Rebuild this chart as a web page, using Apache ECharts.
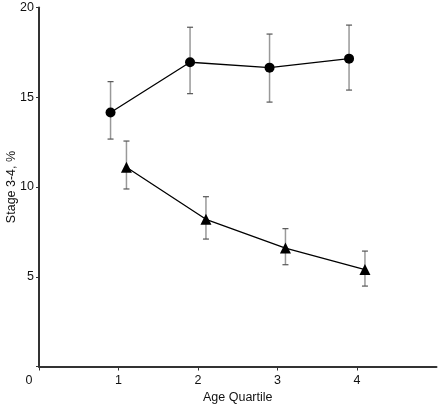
<!DOCTYPE html>
<html><head><meta charset="utf-8">
<script src="https://cdn.jsdelivr.net/npm/echarts@6/dist/echarts.min.js"></script>
<style>html,body{margin:0;padding:0;background:#fff}#c{width:440px;height:406px}</style>
</head><body><div id="c"></div>
<script>
var xTicks = [0, 1, 2, 3, 4];
var yTicks = [0, 5, 10, 15, 20];
var circleX = [0.9, 1.9, 2.9, 3.9];
var circleY = [14.15, 16.95, 16.65, 17.15];
var circleLow = [12.67, 15.2, 14.73, 15.4];
var circleHigh = [15.87, 18.9, 18.52, 19.02];
var triX = [1.1, 2.1, 3.1, 4.1];
var triY = [11.1, 8.2, 6.6, 5.4];
var triLow = [9.89, 7.1, 5.67, 4.48];
var triHigh = [12.56, 9.46, 7.68, 6.43];

var FONT = "'Liberation Sans Narrow','Arial Narrow','Liberation Sans',sans-serif";
function pts(xs, ys){ return xs.map(function(x,i){return [x, ys[i]];}); }
function errs(xs, lo, hi){ return xs.map(function(x,i){return [x, lo[i], hi[i]];}); }
function errRender(params, api){
  var x = api.value(0);
  var lo = api.coord([x, api.value(1)]);
  var hi = api.coord([x, api.value(2)]);
  var w = 3;
  return {type:'group', children:[
    {type:'line', shape:{x1:lo[0],y1:lo[1],x2:hi[0],y2:hi[1]}, style:{stroke:'#999',lineWidth:1.5}},
    {type:'line', shape:{x1:lo[0]-w,y1:lo[1],x2:lo[0]+w,y2:lo[1]}, style:{stroke:'#555',lineWidth:1.2}},
    {type:'line', shape:{x1:hi[0]-w,y1:hi[1],x2:hi[0]+w,y2:hi[1]}, style:{stroke:'#555',lineWidth:1.2}}
  ]};
}
var chart = echarts.init(document.getElementById('c'));
chart.setOption({
  animation:false,
  grid:{left:39, right:3.5, top:7.5, bottom:39.5, containLabel:false, outerBoundsMode:'none'},
  xAxis:{type:'value', min:0, max:5, interval:1,
    axisLine:{lineStyle:{color:'#333', width:2}},
    axisTick:{show:true, length:4, inside:false, lineStyle:{color:'#333', width:1}},
    splitLine:{show:false},
    axisLabel:{fontFamily:FONT, fontSize:12.5, color:'#111', margin:8, showMaxLabel:false,
      formatter:function(v){ if(v===0) return '{z|0}'; return v<=4? String(v):''; },
      rich:{z:{fontFamily:FONT, fontSize:12.5, color:'#111', padding:[0,20,0,0]}}},
    name:'Age Quartile', nameLocation:'middle', nameGap:25, nameMoveOverlap:false,
    nameTextStyle:{fontFamily:FONT, fontSize:12.5, color:'#111'}
  },
  yAxis:{type:'value', min:0, max:20, interval:5,
    axisLine:{show:true, lineStyle:{color:'#333', width:2}},
    axisTick:{show:true, length:3, lineStyle:{color:'#333', width:1}},
    splitLine:{show:false},
    axisLabel:{fontFamily:FONT, fontSize:12.5, color:'#111', margin:5,
      formatter:function(v){ return v===0? '' : String(v); }},
    name:'Stage 3-4, %', nameLocation:'middle', nameGap:21, nameMoveOverlap:false,
    nameTextStyle:{fontFamily:FONT, fontSize:12.5, color:'#111'}
  },
  series:[
    {type:'custom', renderItem:errRender, data:errs(circleX, circleLow, circleHigh), encode:{x:0,y:[1,2]}, z:1},
    {type:'custom', renderItem:errRender, data:errs(triX, triLow, triHigh), encode:{x:0,y:[1,2]}, z:1},
    {type:'line', data:pts(circleX, circleY), symbol:'circle', symbolSize:10,
      itemStyle:{color:'#000'}, lineStyle:{color:'#000', width:1.3}, z:3},
    {type:'line', data:pts(triX, triY), symbol:'triangle', symbolSize:11,
      itemStyle:{color:'#000'}, lineStyle:{color:'#000', width:1.3}, z:3}
  ]
});
</script></body></html>
